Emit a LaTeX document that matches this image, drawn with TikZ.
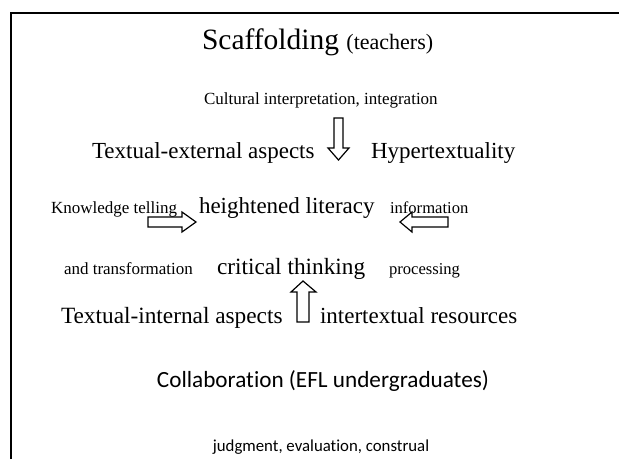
\documentclass[tikz,border=0pt]{standalone}
\usepackage{fontspec}
\setmainfont{Liberation Serif}
\newfontfamily\calibri[Ligatures=NoCommon]{Carlito}
\newcommand{\fs}[1]{\fontsize{#1}{#1}\selectfont}
\tikzset{
  lbl/.style={anchor=base west, inner sep=0pt, outer sep=0pt, text=black},
  ctr/.style={anchor=base, inner sep=0pt, outer sep=0pt, text=black},
  blockarrow/.style={draw=black, line width=1.2pt, fill=white, line join=miter},
  frameline/.style={draw=black, line width=1.5pt}
}
\begin{document}
\begin{tikzpicture}[x=1pt, y=-1pt]
  \useasboundingbox (0,0) rectangle (619,459);
  \fill[white] (0,0) rectangle (619,459);

  % frame: left and top edges
  \coordinate (fbl) at (11,459);
  \coordinate (ftl) at (11,13);
  \coordinate (ftr) at (619,13);
  \draw[frameline] (fbl) -- (ftl) -- (ftr);

  % title
  \node[lbl] (title) at (202,49) {\fs{29.5}Scaffolding \fs{22}(teachers)};
  \node[lbl] (cult) at (204,104) {\fs{17}Cultural interpretation, integration};

  % external aspects row
  \node[lbl] (ext) at (92,158) {\fs{23}Textual-external aspects};
  \node[lbl] (hyper) at (371,158) {\fs{23}Hypertextuality};

  % literacy row
  \node[lbl] (know) at (51,213) {\fs{17}Knowledge telling};
  \node[lbl] (lit) at (199,213) {\fs{23}heightened literacy};
  \node[lbl] (info) at (390,213) {\fs{16.6}information};

  % thinking row
  \node[lbl] (trans) at (64,274) {\fs{17}and transformation};
  \node[lbl] (crit) at (217,274) {\fs{23.3}critical thinking};
  \node[lbl] (proc) at (389,274) {\fs{16.6}processing};

  % internal aspects row
  \node[lbl] (int) at (61,323) {\fs{23.3}Textual-internal aspects};
  \node[lbl] (inter) at (320,323) {\fs{23}intertextual resources};

  % collaboration
  \node[ctr] (collab) at (323,387) {\calibri\fs{23.2}Collaboration (EFL undergraduates)};
  \node[ctr] (judg) at (321,451) {\calibri\fs{16.8}judgment, evaluation, construal};

  % block arrows
  \draw[blockarrow] (334,118) -- (343,118) -- (343,148) -- (349,148)
        -- (338.5,160) -- (328,148) -- (334,148) -- cycle;
  \draw[blockarrow] (148,217) -- (182,217) -- (182,212) -- (196,222)
        -- (182,232) -- (182,227) -- (148,227) -- cycle;
  \draw[blockarrow] (448,217) -- (412,217) -- (412,212) -- (400,222)
        -- (412,232) -- (412,227) -- (448,227) -- cycle;
  \draw[blockarrow] (297,322) -- (297,292) -- (291,292) -- (303,281)
        -- (316,292) -- (309,292) -- (309,322) -- cycle;
\end{tikzpicture}
\end{document}
